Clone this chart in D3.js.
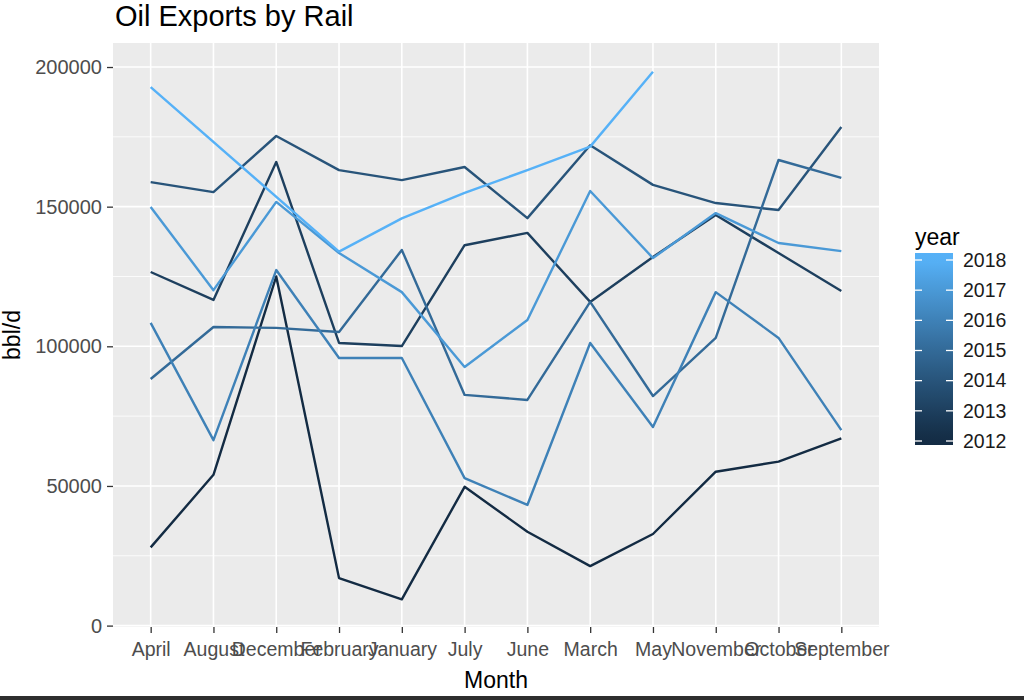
<!DOCTYPE html>
<html lang="en">
<head>
<meta charset="utf-8">
<title>Oil Exports by Rail</title>
<script src="https://d3js.org/d3.v7.min.js"></script>
<style>
  body { margin: 0; background: #fff; }
  text { font-family: "Liberation Sans", Arial, sans-serif; }
</style>
</head>
<body>
<div id="chart"></div>
<script>

// months in the (alphabetical) order the axis shows them
var months = ["April", "August", "December", "February", "January", "July",
              "June", "March", "May", "November", "October", "September"];
var years = [2012, 2013, 2014, 2015, 2016, 2017, 2018];

// bbl/d, same order as months; null = no data for that month
var y2012 = [28000, 54000, 125000, 17000, 9400, 49700, 33600, 21300, 32800, 55100, 58700, 67000];
var y2013 = [126600, 116600, 166000, 101200, 100100, 136200, 140600, 115900, 132000, 147000, 133400, 119800];
var y2014 = [158800, 155200, 175300, 163100, 159500, 164200, 145900, 172000, 157800, 151300, 148800, 178500];
var y2015 = [88300, 106900, 106600, 105100, 134500, 82600, 80800, 115900, 82200, 103000, 166700, 160300];
var y2016 = [108400, 66400, 127300, 95800, 95800, 52800, 43200, 101200, 71100, 119400, 103000, 70000];
var y2017 = [149900, 120100, 151700, 133400, 119400, 92600, 109400, 155600, 131600, 147700, 137000, 134100];
var y2018 = [192800, null, null, 133900, 145800, 154900, 163100, 171500, 198300, null, null, null];

var yTicks = [0, 50000, 100000, 150000, 200000];
var yMinor = [25000, 75000, 125000, 175000];

var seriesValues = [y2012, y2013, y2014, y2015, y2016, y2017, y2018];
var series = years.map(function(yr, i) {
  return {
    year: yr,
    points: months.map(function(m, j) { return {month: m, value: seriesValues[i][j]}; })
      .filter(function(p) { return p.value !== null; })
  };
});

var width = 1024, height = 700;
var panel = {left: 113, right: 879, top: 43, bottom: 627};

var svg = d3.select("#chart").append("svg")
  .attr("width", width)
  .attr("height", height);

var x = d3.scalePoint()
  .domain(months)
  .range([panel.left, panel.right])
  .padding(0.6);

var y = d3.scaleLinear()
  .domain([-500, 208600])
  .range([panel.bottom, panel.top]);

var colour = d3.scaleLinear()
  .domain([2012, 2018])
  .range(["#132B43", "#56B1F7"])
  .interpolate(d3.interpolateLab);

// panel + grid
svg.append("rect")
  .attr("x", panel.left).attr("y", panel.top)
  .attr("width", panel.right - panel.left)
  .attr("height", panel.bottom - panel.top)
  .attr("fill", "#EBEBEB");

svg.append("g").selectAll("line")
  .data(yMinor).enter().append("line")
  .attr("x1", panel.left).attr("x2", panel.right)
  .attr("y1", d => y(d)).attr("y2", d => y(d))
  .attr("stroke", "#fff").attr("stroke-width", 0.8);

svg.append("g").selectAll("line")
  .data(yTicks).enter().append("line")
  .attr("x1", panel.left).attr("x2", panel.right)
  .attr("y1", d => y(d)).attr("y2", d => y(d))
  .attr("stroke", "#fff").attr("stroke-width", 1.6);

svg.append("g").selectAll("line")
  .data(months).enter().append("line")
  .attr("x1", d => x(d)).attr("x2", d => x(d))
  .attr("y1", panel.top).attr("y2", panel.bottom)
  .attr("stroke", "#fff").attr("stroke-width", 1.6);

// lines
var line = d3.line()
  .x(d => x(d.month))
  .y(d => y(d.value));

svg.append("g").selectAll("path")
  .data(series).enter().append("path")
  .attr("d", d => line(d.points))
  .attr("fill", "none")
  .attr("stroke", d => colour(d.year))
  .attr("stroke-width", 2.4)
  .attr("stroke-linejoin", "round");

// axes
var xAxis = svg.append("g")
  .attr("transform", "translate(0," + panel.bottom + ")")
  .call(d3.axisBottom(x).tickSize(6).tickPadding(9));
xAxis.select(".domain").remove();
xAxis.selectAll(".tick line").attr("stroke", "#333").attr("stroke-width", 1.3);
xAxis.selectAll(".tick text")
  .attr("fill", "#4D4D4D").attr("font-size", 19.5)
  .attr("font-family", "Liberation Sans, Arial, sans-serif");

var yAxis = svg.append("g")
  .attr("transform", "translate(" + panel.left + ",0)")
  .call(d3.axisLeft(y).tickValues(yTicks).tickFormat(d3.format("d")).tickSize(6).tickPadding(5));
yAxis.select(".domain").remove();
yAxis.selectAll(".tick line").attr("stroke", "#333").attr("stroke-width", 1.3);
yAxis.selectAll(".tick text")
  .attr("fill", "#4D4D4D").attr("font-size", 20)
  .attr("font-family", "Liberation Sans, Arial, sans-serif");

// titles
svg.append("text")
  .attr("x", 115).attr("y", 26)
  .attr("font-size", 29)
  .attr("fill", "#000")
  .text("Oil Exports by Rail");

svg.append("text")
  .attr("x", (panel.left + panel.right) / 2).attr("y", 688)
  .attr("text-anchor", "middle")
  .attr("font-size", 23)
  .text("Month");

svg.append("text")
  .attr("transform", "translate(20," + ((panel.top + panel.bottom) / 2) + ") rotate(-90)")
  .attr("text-anchor", "middle")
  .attr("font-size", 23)
  .text("bbl/d");

// colourbar legend
var bar = {x: 915, w: 38, top: 253, bottom: 445};
var legY = d3.scaleLinear().domain([2012, 2018]).range([441, 260]);

var grad = svg.append("defs").append("linearGradient")
  .attr("id", "yeargrad")
  .attr("x1", 0).attr("y1", 0).attr("x2", 0).attr("y2", 1);
d3.range(0, 1.0001, 0.05).forEach(function(t) {
  var yr = Math.max(2012, Math.min(2018, legY.invert(bar.top + t * (bar.bottom - bar.top))));
  grad.append("stop").attr("offset", t).attr("stop-color", colour(yr));
});

svg.append("text")
  .attr("x", bar.x).attr("y", 245)
  .attr("font-size", 23)
  .text("year");

svg.append("rect")
  .attr("x", bar.x).attr("y", bar.top)
  .attr("width", bar.w).attr("height", bar.bottom - bar.top)
  .attr("fill", "url(#yeargrad)");

var legTicks = svg.append("g").selectAll("g")
  .data(years).enter().append("g")
  .attr("transform", d => "translate(0," + legY(d) + ")");

legTicks.append("line")
  .attr("x1", bar.x).attr("x2", bar.x + 7)
  .attr("stroke", "#fff").attr("stroke-width", 1.3);
legTicks.append("line")
  .attr("x1", bar.x + bar.w - 7).attr("x2", bar.x + bar.w)
  .attr("stroke", "#fff").attr("stroke-width", 1.3);
legTicks.append("text")
  .attr("x", 963).attr("dy", "0.35em")
  .attr("font-size", 19.5)
  .attr("fill", "#1A1A1A")
  .text(d => d);

// screenshot frame at the bottom
svg.append("rect")
  .attr("x", 0).attr("y", 696)
  .attr("width", width).attr("height", 4)
  .attr("fill", "#2E2E2E");

</script>
</body>
</html>
